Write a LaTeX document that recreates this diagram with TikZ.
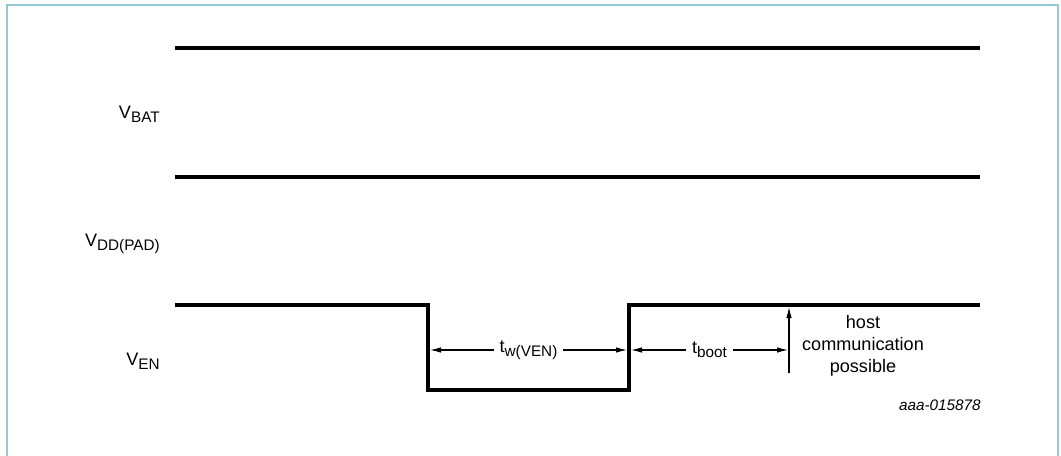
\documentclass[tikz,border=0pt]{standalone}
\usepackage{fontspec}
\setmainfont{Liberation Sans}
\usepackage{tikz}
\usetikzlibrary{arrows.meta,calc}
\definecolor{framecol}{RGB}{150,200,212}
\newcommand{\lowsub}[1]{\raisebox{-0.45ex}{\fontsize{8.7}{10}\selectfont #1}}

\begin{document}
\begin{tikzpicture}[x=0.02cm,y=-0.02cm,
  wave/.style={line width=2pt},
  dim/.style={line width=0.6pt},
  tip/.style={-{Latex[length=2.2mm,width=1.1mm]}},
  twotip/.style={{Latex[length=2.2mm,width=1.1mm]}-{Latex[length=2.2mm,width=1.1mm]}},
  lbl/.style={font=\fontsize{10.3}{12.5}\selectfont,inner sep=0pt},
  gap/.style={font=\fontsize{10.3}{12.5}\selectfont,fill=white,inner xsep=3.5pt,inner ysep=1pt}]
\useasboundingbox (0,0) rectangle (1061,456);
\draw[framecol,line width=1.1pt] (7,456) -- (7,5) -- (1058,5) -- (1058,456);

% waveforms
\coordinate (bat0) at (175,48);
\coordinate (bat1) at (980,48);
\coordinate (dd0) at (175,177);
\coordinate (dd1) at (980,177);
\coordinate (en0) at (175,305);
\coordinate (fall) at (428,305);
\coordinate (rise) at (629,305);
\coordinate (en1) at (980,305);
\draw[wave] (bat0) -- (bat1);
\draw[wave] (dd0) -- (dd1);
\draw[wave] (en0) -- (fall) -- ($(fall)+(0,85)$) -- ($(rise)+(0,85)$) -- (rise) -- (en1);

% labels
\node[lbl,anchor=base east] (vbat) at (160,118) {V\lowsub{BAT}};
\node[lbl,anchor=base east] (vdd) at (160,246) {V\lowsub{DD(PAD)}};
\node[lbl,anchor=base east] (ven) at (160,365) {V\lowsub{EN}};

% timing
\coordinate (tw0) at (430,350);
\coordinate (tw1) at (627,350);
\coordinate (tb0) at (631,350);
\coordinate (tb1) at (788,350);
\coordinate (ok0) at (789,373);
\coordinate (ok1) at (789,307);
\draw[dim,twotip] (tw0) -- node[gap] (tw) {t\lowsub{w(VEN)}} (tw1);
\draw[dim,twotip] (tb0) -- node[gap] (tb) {t\lowsub{boot}} (tb1);
\draw[dim,tip] (ok0) -- (ok1);
\node[lbl,align=center] (host) at (863,346) {host\\communication\\possible};
\node[anchor=east,inner sep=0pt,font=\fontsize{8.7}{10}\selectfont\itshape] (code) at (981,405) {aaa-015878};
\end{tikzpicture}
\end{document}
